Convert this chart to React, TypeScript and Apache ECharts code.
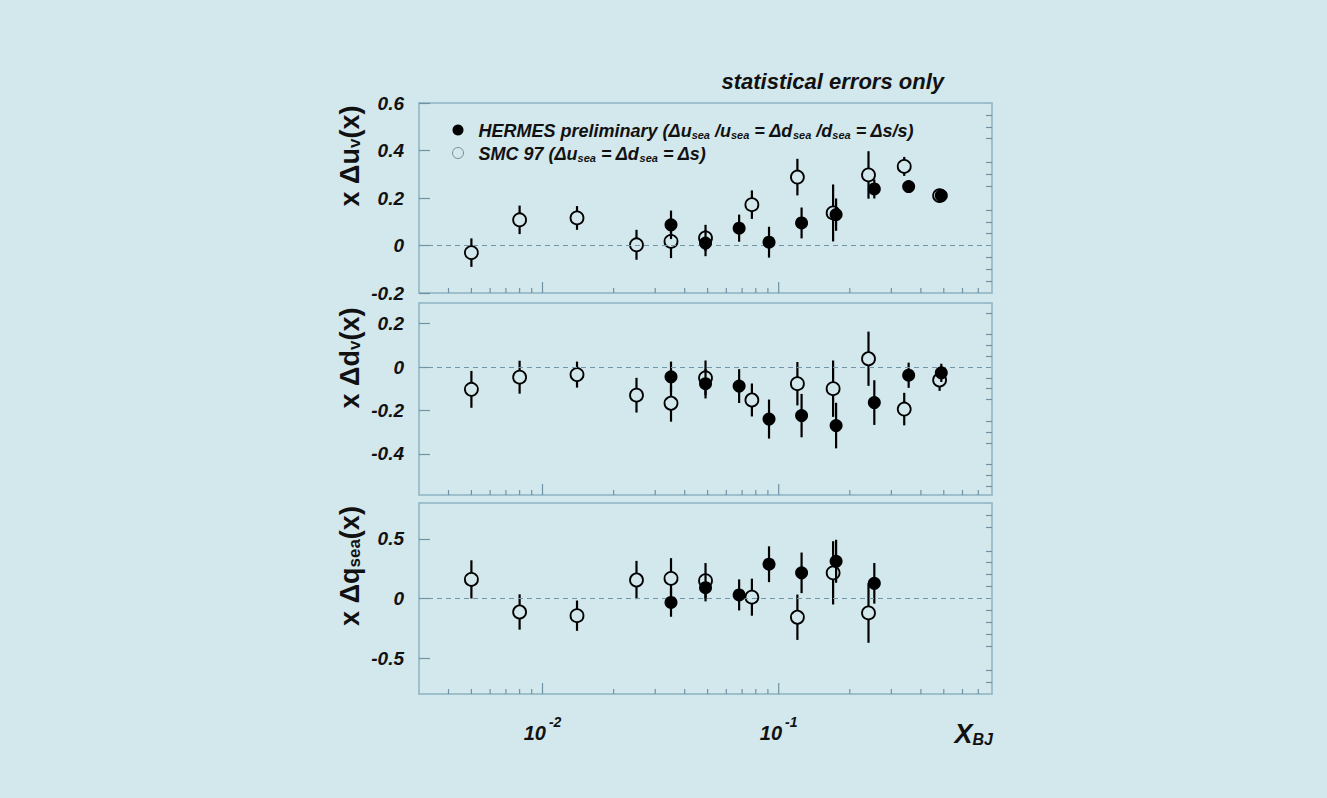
import React, { useEffect, useRef } from "react";
import * as echarts from "echarts";

// ---------------- data ----------------
const smcX = [0.005, 0.008, 0.014, 0.025, 0.035, 0.049, 0.077, 0.12, 0.17, 0.24, 0.34, 0.48];
const hermesX = [0.035, 0.049, 0.068, 0.091, 0.125, 0.175, 0.254, 0.355, 0.488];

const smcUv = [-0.03, 0.108, 0.116, 0.003, 0.017, 0.032, 0.172, 0.288, 0.137, 0.297, 0.333, 0.21];
const smcUvErr = [0.06, 0.06, 0.05, 0.063, 0.07, 0.055, 0.06, 0.077, 0.12, 0.1, 0.04, 0.025];
const hermesUv = [0.087, 0.01, 0.073, 0.014, 0.095, 0.13, 0.238, 0.248, 0.21];
const hermesUvErr = [0.06, 0.055, 0.057, 0.065, 0.065, 0.068, 0.04, 0.025, 0.025];

const smcDv = [-0.103, -0.047, -0.035, -0.13, -0.167, -0.05, -0.152, -0.077, -0.1, 0.038, -0.194, -0.06];
const smcDvErr = [0.085, 0.076, 0.06, 0.08, 0.085, 0.08, 0.076, 0.1, 0.13, 0.125, 0.075, 0.05];
const hermesDv = [-0.045, -0.077, -0.088, -0.24, -0.224, -0.27, -0.164, -0.038, -0.027];
const hermesDvErr = [0.07, 0.068, 0.078, 0.09, 0.1, 0.105, 0.103, 0.058, 0.042];

const smcQsea = [0.16, -0.113, -0.144, 0.155, 0.168, 0.149, 0.011, -0.157, 0.215, -0.121];
const smcQseaErr = [0.16, 0.148, 0.127, 0.16, 0.17, 0.148, 0.155, 0.19, 0.265, 0.25];
const hermesQsea = [-0.033, 0.091, 0.03, 0.287, 0.215, 0.312, 0.127];
const hermesQseaErr = [0.12, 0.115, 0.13, 0.15, 0.17, 0.18, 0.17];

const xMinorTicks = [0.004, 0.005, 0.006, 0.007, 0.008, 0.009, 0.02, 0.03, 0.04, 0.05, 0.06, 0.07, 0.08, 0.09, 0.2, 0.3, 0.4, 0.5, 0.6, 0.7];
const xMajorTicks = [0.01, 0.1];

const uvLabels = [-0.2, 0, 0.2, 0.4, 0.6];
const uvMinor = [-0.15, -0.1, -0.05, 0.05, 0.1, 0.15, 0.25, 0.3, 0.35, 0.45, 0.5, 0.55];
const dvLabels = [-0.4, -0.2, 0, 0.2];
const dvMinor = [-0.55, -0.5, -0.45, -0.35, -0.3, -0.25, -0.15, -0.1, -0.05, 0.05, 0.1, 0.15, 0.25];
const qLabels = [-0.5, 0, 0.5];
const qMinor = [-0.7, -0.6, -0.4, -0.3, -0.2, -0.1, 0.1, 0.2, 0.3, 0.4, 0.6, 0.7];

// ---------------- style ----------------
const FONT = "'Liberation Sans', Arial, Helvetica, sans-serif";
const BG = "#d3e8ec";
const BORDER = "#8db1c1";
const TICK = "#6f93a5";

const panels = [
  { top: 103, height: 190, min: -0.2, max: 0.6, labels: uvLabels, minor: uvMinor, smc: smcUv, smcErr: smcUvErr, her: hermesUv, herErr: hermesUvErr },
  { top: 303, height: 192, min: -0.59, max: 0.295, labels: dvLabels, minor: dvMinor, smc: smcDv, smcErr: smcDvErr, her: hermesDv, herErr: hermesDvErr },
  { top: 503, height: 191, min: -0.8, max: 0.8, labels: qLabels, minor: qMinor, smc: smcQsea, smcErr: smcQseaErr, her: hermesQsea, herErr: hermesQseaErr },
];

const tickRender = (len: number) => (_p: any, api: any) => {
  const p = api.coord([api.value(0), api.value(1)]);
  return {
    type: "line",
    shape: { x1: p[0], y1: p[1], x2: p[0], y2: p[1] - len },
    style: { stroke: TICK, lineWidth: 1.2 },
  };
};

const errRender = (_p: any, api: any) => {
  const x = api.value(0);
  const y = api.value(1);
  const e = api.value(2);
  const a = api.coord([x, y + e]);
  const b = api.coord([x, y - e]);
  return {
    type: "line",
    shape: { x1: a[0], y1: a[1], x2: b[0], y2: b[1] },
    style: { stroke: "#000", lineWidth: 2.2 },
  };
};

function buildOption() {
  const grid: any[] = [];
  const xAxis: any[] = [];
  const yAxis: any[] = [];
  const series: any[] = [];

  panels.forEach((pn, i) => {
    grid.push({
      left: 419, top: pn.top, width: 573, height: pn.height,
      show: true, borderColor: BORDER, borderWidth: 1.5, backgroundColor: "transparent",
    });
    xAxis.push({
      type: "log", logBase: 10, gridIndex: i, min: 0.003, max: 0.8,
      axisLine: { show: false }, axisTick: { show: false }, splitLine: { show: false },
      axisLabel: {
        show: i === 2,
        margin: 21,
        formatter: (v: number) => {
          const l = Math.log10(v);
          if (Math.abs(l - Math.round(l)) > 1e-6 || v < 0.005 || v > 0.5) return "";
          return `{b|10}{s|${Math.round(l)}}`;
        },
        rich: {
          b: { fontSize: 20, fontWeight: "bold", fontStyle: "italic", fontFamily: FONT, color: "#111", lineHeight: 28, verticalAlign: "bottom" },
          s: { fontSize: 14, fontWeight: "bold", fontStyle: "italic", fontFamily: FONT, color: "#111", lineHeight: 2, verticalAlign: "top", padding: [0, 0, 0, 3] },
        },
      },
    });
    // major axis with labels
    yAxis.push({
      type: "value", gridIndex: i, min: pn.min, max: pn.max,
      axisLine: { show: false }, splitLine: { show: false },
      axisTick: { show: true, inside: true, length: 11, customValues: pn.labels, lineStyle: { color: TICK, width: 1.2 } },
      axisLabel: {
        customValues: pn.labels, margin: 15,
        formatter: (v: number) => (Math.abs(v) < 1e-9 ? "0" : v.toFixed(1)),
        fontSize: 19, fontWeight: "bold", fontStyle: "italic", fontFamily: FONT, color: "#111",
      },
    });
    // minor ticks axis
    yAxis.push({
      type: "value", gridIndex: i, min: pn.min, max: pn.max,
      axisLine: { show: false }, splitLine: { show: false }, axisLabel: { show: false },
      axisTick: { show: true, inside: true, length: 6, customValues: pn.minor, lineStyle: { color: TICK, width: 1.2 } },
    });

    const yIdx = 2 * i;
    series.push({
      type: "custom", xAxisIndex: i, yAxisIndex: yIdx, silent: true, z: 1,
      renderItem: tickRender(5), data: xMinorTicks.map((v) => [v, pn.min]),
    });
    series.push({
      type: "custom", xAxisIndex: i, yAxisIndex: yIdx, silent: true, z: 1,
      renderItem: tickRender(11), data: xMajorTicks.map((v) => [v, pn.min]),
    });
    series.push({
      name: "SMC 97", type: "custom", xAxisIndex: i, yAxisIndex: yIdx, z: 2,
      renderItem: errRender, data: pn.smc.map((y, k) => [smcX[k], y, pn.smcErr[k]]),
    });
    series.push({
      name: "SMC 97", type: "scatter", xAxisIndex: i, yAxisIndex: yIdx, z: 3,
      symbol: "circle", symbolSize: 13,
      itemStyle: { color: BG, borderColor: "#000", borderWidth: 1.8, opacity: 1 },
      data: pn.smc.map((y, k) => [smcX[k], y]),
      markLine: {
        silent: true, symbol: "none", label: { show: false },
        lineStyle: { color: "#7096a9", type: [5, 4], width: 1 },
        data: [{ yAxis: 0 }],
      },
    });
    series.push({
      name: "HERMES preliminary", type: "custom", xAxisIndex: i, yAxisIndex: yIdx, z: 4,
      renderItem: errRender, data: pn.her.map((y, k) => [hermesX[k], y, pn.herErr[k]]),
    });
    series.push({
      name: "HERMES preliminary", type: "scatter", xAxisIndex: i, yAxisIndex: yIdx, z: 5,
      symbol: "circle", symbolSize: 13,
      itemStyle: { color: "#000", opacity: 1 },
      data: pn.her.map((y, k) => [hermesX[k], y]),
    });
  });

  const tStyle = { fontSize: 18, fontWeight: "bold", fontStyle: "italic", fontFamily: FONT, color: "#111", lineHeight: 20, verticalAlign: "bottom" };
  const sStyle = { fontSize: 11, fontWeight: "bold", fontStyle: "italic", fontFamily: FONT, color: "#111", lineHeight: 1, verticalAlign: "bottom" };

  const mStyle = { fontSize: 27, fontWeight: "bold", fontFamily: FONT, fill: "#111", lineHeight: 30, verticalAlign: "bottom" };
  const subStyle = { fontSize: 17, fontWeight: "bold", fontFamily: FONT, fill: "#111", lineHeight: 2, verticalAlign: "bottom" };

  const yTitle = (text: string, y: number) => ({
    type: "text", x: 348, y, rotation: Math.PI / 2,
    style: { text, rich: { m: mStyle, s: subStyle }, align: "center", verticalAlign: "middle", fill: "#111" },
  });

  return {
    animation: false,
    backgroundColor: BG,
    title: {
      text: "statistical errors only", right: 378, top: 65,
      textStyle: { fontSize: 22, fontWeight: "bold", fontStyle: "italic", fontFamily: FONT, color: "#111" },
    },
    legend: {
      left: 447, top: 117, orient: "vertical", itemGap: 5, itemWidth: 11, itemHeight: 11,
      selectedMode: false,
      data: [
        { name: "HERMES preliminary", icon: "circle", itemStyle: { color: "#000" } },
        { name: "SMC 97", icon: "circle", itemStyle: { color: "transparent", borderColor: "#7a8a90", borderWidth: 1 } },
      ],
      formatter: (name: string) =>
        name === "SMC 97"
          ? "{t|SMC 97 (Δu}{s|sea}{t| = Δd}{s|sea}{t| = Δs)}"
          : "{t|HERMES preliminary (Δu}{s|sea}{t| /u}{s|sea}{t| = Δd}{s|sea}{t| /d}{s|sea}{t| = Δs/s)}",
      textStyle: { padding: [0, 0, 0, 10], rich: { t: tStyle, s: sStyle } },
    },
    grid,
    xAxis,
    yAxis,
    series,
    graphic: [
      yTitle("{m|x Δu}{s|v}{m|(x)}", 156),
      yTitle("{m|x Δd}{s|v}{m|(x)}", 358),
      yTitle("{m|x Δq}{s|sea}{m|(x)}", 566),
      {
        type: "text", x: 993, y: 747,
        style: {
          text: "{X|X}{s|BJ}",
          rich: {
            X: { fontSize: 27, fontWeight: "bold", fontStyle: "italic", fontFamily: FONT, fill: "#111", lineHeight: 30, verticalAlign: "bottom" },
            s: { fontSize: 16, fontWeight: "bold", fontStyle: "italic", fontFamily: FONT, fill: "#111", lineHeight: 8, verticalAlign: "bottom" },
          },
          align: "right", verticalAlign: "bottom", fill: "#111",
        },
      },
    ],
  };
}

export default function App() {
  const ref = useRef<HTMLDivElement>(null);
  useEffect(() => {
    if (!ref.current) return;
    const chart = echarts.init(ref.current, undefined, { renderer: "svg" });
    chart.setOption(buildOption() as any);
    return () => chart.dispose();
  }, []);
  return (
    <div style={{ position: "fixed", left: 0, top: 0, width: 1327, height: 798, background: BG }}>
      <div ref={ref} style={{ width: 1327, height: 798 }} />
    </div>
  );
}
